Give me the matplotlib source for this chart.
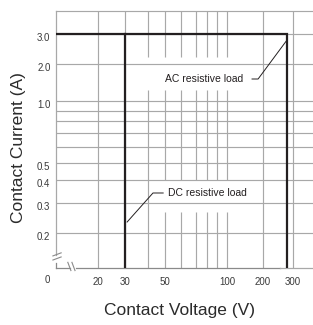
import numpy as np
import matplotlib
matplotlib.use('Agg')
import matplotlib.pyplot as plt
from matplotlib.transforms import ScaledTranslation

plt.rcParams['font.family'] = ['Liberation Sans', 'DejaVu Sans']

# ---------------- data ----------------
current_limit = 3.0          # A
dc_voltage_limit = 30        # V (DC resistive load)
ac_voltage_limit = 277       # V (AC resistive load)

x_tick_values = [20, 30, 50, 100, 200, 300]
x_tick_labels = ['20', '30', '50', '100', '200', '300']
x_minor_values = [40, 60, 70, 80, 90]
y_tick_values = [0.2, 0.3, 0.4, 0.5, 1.0, 2.0, 3.0]
y_tick_labels = ['0.2', '0.3', '0.4', '0.5', '1.0', '2.0', '3.0']
y_minor_values = [0.6, 0.7, 0.8, 0.9]

ac_label = 'AC resistive load'
dc_label = 'DC resistive load'

# ---------------- axis scale (printed chart is only roughly logarithmic) ----------------
X_SCALE_VALUES = [10, 20, 30, 40, 50, 60, 70, 80, 90, 100, 200, 300, 400]
X_SCALE_UNITS = [0, 42, 69, 92, 109, 125, 140, 151, 161, 171, 207, 237, 257]
Y_SCALE_VALUES = [0.1, 0.2, 0.3, 0.4, 0.5, 0.6, 0.7, 0.8, 0.9, 1.0, 2.0, 3.0, 4.0]
Y_SCALE_UNITS = [0, 35, 65, 88, 105, 121, 135, 147, 157, 167, 204, 234, 257]


def make_scale(values, units):
    lv = np.log10(values)

    def fwd(v):
        v = np.asarray(v, dtype=float)
        return np.interp(np.log10(np.clip(v, 1e-12, None)), lv, units)

    def inv(u):
        return 10 ** np.interp(np.asarray(u, dtype=float), units, lv)
    return fwd, inv


W, H = 313, 325
fig = plt.figure(figsize=(W / 100, H / 100), dpi=100)
ax = fig.add_axes([56 / W, 57 / H, 257 / W, 257 / H])

ax.set_xscale('function', functions=make_scale(X_SCALE_VALUES, X_SCALE_UNITS))
ax.set_yscale('function', functions=make_scale(Y_SCALE_VALUES, Y_SCALE_UNITS))
xlo, xhi = X_SCALE_VALUES[0], X_SCALE_VALUES[-1]
ylo, yhi = Y_SCALE_VALUES[0], Y_SCALE_VALUES[-1]
ax.set_xlim(xlo, xhi)
ax.set_ylim(ylo, yhi)

grid_c = '#a8a8a8'
grid_lw = 0.85
ink = '#231f20'

# horizontal grid lines
ax.hlines(y_tick_values + y_minor_values, 0, 1, transform=ax.get_yaxis_transform(),
          colors=grid_c, lw=grid_lw, zorder=1)

# vertical grid lines, interrupted behind the two labels
ac_gap = (0.693, 0.821)
dc_gap = (0.218, 0.342)
for v in sorted(x_tick_values + x_minor_values):
    gaps = []
    if 40 <= v <= 100:
        gaps.append(ac_gap)
    if 50 <= v <= 100:
        gaps.append(dc_gap)
    edges = [0.0]
    for g0, g1 in sorted(gaps):
        edges += [g0, g1]
    edges.append(1.0)
    for a, b in zip(edges[0::2], edges[1::2]):
        ax.vlines(v, a, b, transform=ax.get_xaxis_transform(), colors=grid_c,
                  lw=grid_lw, zorder=1)

# spines
for s in ['left', 'bottom', 'right']:
    ax.spines[s].set_visible(False)
ax.spines['top'].set_color(grid_c)
ax.spines['top'].set_linewidth(grid_lw)

tA = ax.transAxes
spine_c = '#8a8a8a'
ax.plot([0, 0], [0.05, 1], transform=tA, color=grid_c, lw=0.9, clip_on=False, zorder=2)
ax.plot([0, 0], [0, 0.019], transform=tA, color=spine_c, lw=0.9, clip_on=False, zorder=2)
ax.plot([0, 0.054], [0, 0], transform=tA, color=spine_c, lw=0.9, clip_on=False, zorder=2)
ax.plot([0.078, 0.872], [0, 0], transform=tA, color=spine_c, lw=0.9, clip_on=False, zorder=2)
ax.plot([0.872, 1.0], [0, 0], transform=tA, color=grid_c, lw=0.9, clip_on=False, zorder=2)
# axis break marks
for dy in (0.0, 0.016):
    ax.plot([-0.012, 0.020], [0.031 + dy, 0.043 + dy], transform=tA, color=spine_c,
            lw=0.8, clip_on=False, zorder=2)
for dx in (0.0, 0.016):
    ax.plot([0.046 + dx, 0.058 + dx], [0.022, -0.010], transform=tA, color=spine_c,
            lw=0.8, clip_on=False, zorder=2)

# load limit lines
ax.plot([xlo, ac_voltage_limit, ac_voltage_limit], [current_limit, current_limit, ylo],
        color=ink, lw=1.6, solid_joinstyle='miter', zorder=3)
ax.plot([dc_voltage_limit, dc_voltage_limit], [current_limit, ylo],
        color=ink, lw=1.6, zorder=3)

# labels with leader lines
ax.text(136, 1.51, ac_label, ha='right', va='center', fontsize=7.5, color=ink, zorder=4)
ax.plot([162, 182, 277], [1.51, 1.51, 2.77], color=ink, lw=0.7, zorder=4)
ax.text(51.7, 0.34, dc_label, ha='left', va='center', fontsize=7.5, color=ink, zorder=4)
ax.plot([48.8, 42.7, 30.8], [0.34, 0.34, 0.232], color=ink, lw=0.7, zorder=4)

# ticks
ax.set_xticks(x_tick_values, x_tick_labels)
ax.set_yticks(y_tick_values, y_tick_labels)
ax.xaxis.set_minor_locator(matplotlib.ticker.NullLocator())
ax.yaxis.set_minor_locator(matplotlib.ticker.NullLocator())
ax.tick_params(axis='both', length=0, labelsize=7, labelcolor='#3a3a3a')
ax.tick_params(axis='x', pad=6.5)
ax.tick_params(axis='y', pad=4)
off = ScaledTranslation(0, -0.03, fig.dpi_scale_trans)
for lab in ax.get_yticklabels():
    lab.set_transform(lab.get_transform() + off)

fig.text(47 / W, 1 - 280 / H, '0', ha='center', va='center', fontsize=7, color='#3a3a3a')
fig.text(180 / W, 1 - 311 / H, 'Contact Voltage (V)', ha='center', va='center',
         fontsize=12.5, color='#2b2b2b')
fig.text(19 / W, 1 - 148 / H, 'Contact Current (A)', ha='center', va='center',
         rotation=90, fontsize=12.5, color='#2b2b2b')

fig.savefig('out.png', dpi=100)
